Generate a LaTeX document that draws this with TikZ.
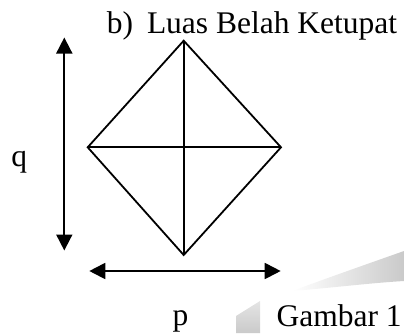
\documentclass[tikz,border=0pt]{standalone}
\usepackage{fontspec}
\setmainfont{Liberation Serif}
\usepackage{tikz}
\usetikzlibrary{arrows.meta,positioning,calc}
\definecolor{markgray}{HTML}{CACACA}

\begin{document}
\begin{tikzpicture}[x=1pt, y=-1pt, line width=1.8pt,
  dimarrow/.style={{Triangle[length=16pt,width=16pt]}-{Triangle[length=16pt,width=16pt]}},
  lbl/.style={inner sep=0pt, font=\fontsize{31.5}{36}\selectfont}]
\useasboundingbox (0,0) rectangle (404,333);
% watermark pieces
\shade[left color=white, right color=markgray, draw=none] (292,291) .. controls (330,277) and (370,263) .. (404,251) -- (404,281) .. controls (370,283) and (330,288) .. cycle;
\shade[top color=markgray!50, bottom color=markgray, draw=none] (236,316) -- (260,301) -- (260,333) -- (236,333) -- cycle;
% the rhombus
\coordinate (top) at (183.7,40.7);
\coordinate (right) at (281,147.3);
\coordinate (bottom) at (183.7,255);
\coordinate (left) at (87.7,147.3);
\draw (top) -- (right) -- (bottom) -- (left) -- cycle;
\draw (top) -- (bottom);
\draw (left) -- (right);
% diagonals q and p
\coordinate (qtop) at (64.3,37.5);
\coordinate (qbot) at (64.3,250.5);
\coordinate (pleft) at (89.3,271);
\coordinate (pright) at (280.7,271);
\draw[dimarrow] (qtop) -- (qbot);
\draw[dimarrow] (pleft) -- (pright);
\node[lbl, anchor=base] (qlabel) at (19.2,166.7) {q};
\node[lbl, anchor=base] (plabel) at (180.5,325.5) {p};
\node[lbl, anchor=base west] (title) at (106,33.3) {b)\hspace{0.44em}Luas Belah Ketupat};
\node[lbl, anchor=base west] (caption) at (275.7,326.7) {Gambar 1};
\end{tikzpicture}
\end{document}
